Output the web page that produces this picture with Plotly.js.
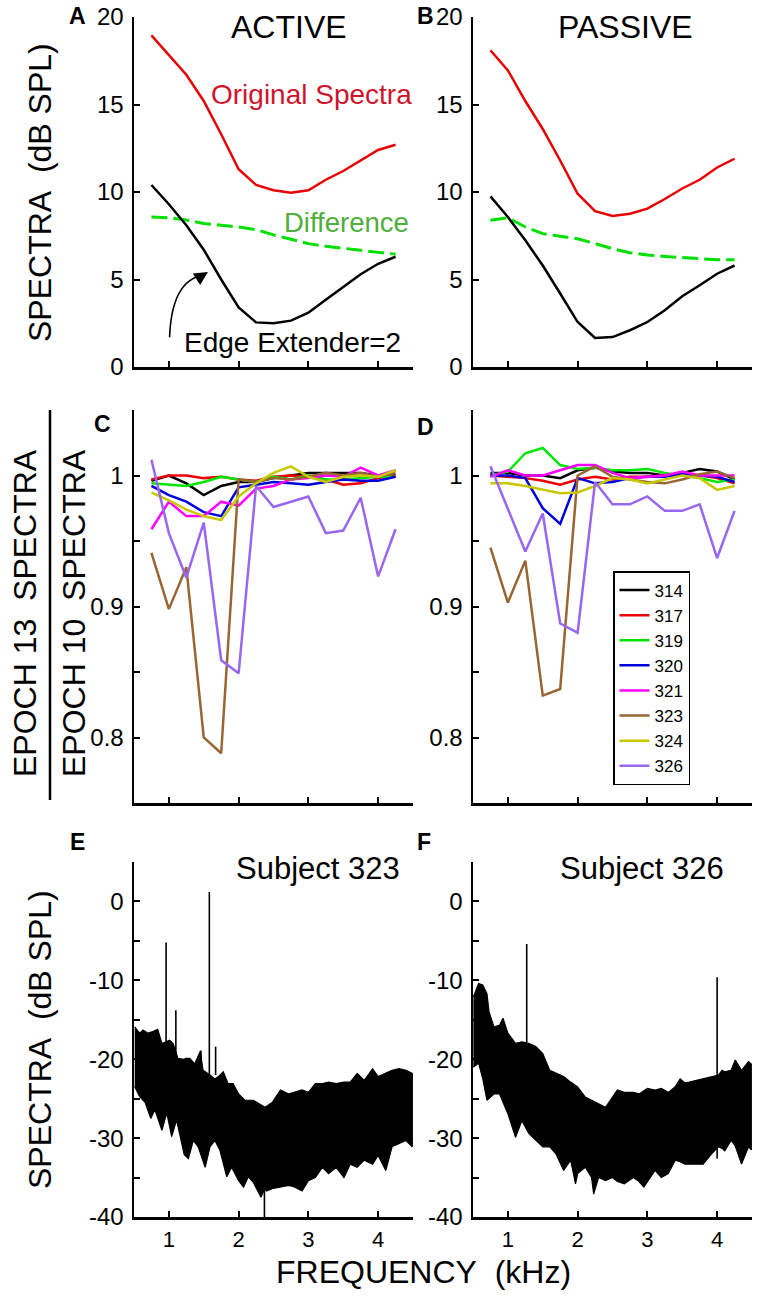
<!DOCTYPE html>
<html>
<head>
<meta charset="utf-8">
<script src="https://cdn.plot.ly/plotly-3.0.1.min.js"></script>
<style>html,body{margin:0;padding:0;background:#fff;}#chart{width:763px;height:1300px;}</style>
</head>
<body>
<div id="chart"></div>
<script>
// ---------- DATA ----------
// Panels A/B: smoothed spectra, frequency grid (kHz)
const freqAB = [0.75,1.0,1.25,1.5,1.75,2.0,2.25,2.5,2.75,3.0,3.25,3.5,3.75,4.0,4.25];
const activeOriginal   = [18.95,17.8,16.7,15.2,13.3,11.3,10.4,10.1,9.96,10.1,10.7,11.2,11.8,12.4,12.7];
const activeExtender   = [10.4,9.3,8.1,6.7,5.0,3.4,2.55,2.5,2.65,3.1,3.85,4.6,5.3,5.9,6.3];
const activeDifference = [8.57,8.53,8.4,8.2,8.1,8.0,7.85,7.55,7.3,7.05,6.9,6.8,6.67,6.55,6.45];
const passiveOriginal   = [18.1,16.95,15.2,13.6,11.8,9.9,8.9,8.63,8.76,9.05,9.6,10.2,10.7,11.4,11.9];
const passiveExtender   = [9.75,8.57,7.24,5.8,4.2,2.57,1.66,1.71,2.1,2.57,3.24,4.04,4.67,5.33,5.8];
const passiveDifference = [8.38,8.53,8.0,7.62,7.47,7.33,7.05,6.76,6.53,6.4,6.32,6.25,6.17,6.13,6.13];

// Panels C/D: epoch 13 / epoch 10 spectra ratio per subject
const subjects = ['314','317','319','320','321','323','324','326'];
const subjectColors = ['#000000','#ee0000','#00e600','#0000dd','#ff00ff','#996633','#c8c800','#9966f0'];
const activeRatio = [
  [0.996,1.0,0.994,0.985,0.992,0.995,0.995,0.998,1.0,1.002,1.002,1.002,1.002,1.0,1.0],
  [0.997,1.0,1.0,0.998,0.999,0.997,0.996,0.999,1.0,0.999,0.997,0.993,0.994,0.998,1.0],
  [0.994,0.993,0.992,0.995,0.999,0.997,0.995,0.999,0.997,1.0,0.997,0.997,0.998,0.999,0.999],
  [0.992,0.985,0.980,0.972,0.969,0.991,0.993,0.995,0.994,0.993,0.995,0.997,0.996,0.996,0.999],
  [0.959,0.980,0.969,0.969,0.980,0.977,0.990,0.992,0.997,0.998,1.0,0.999,1.006,1.0,1.004],
  [0.941,0.898,0.930,0.800,0.788,0.997,0.995,0.998,0.997,0.999,1.002,1.0,1.002,0.999,1.002],
  [0.987,0.981,0.974,0.969,0.966,0.984,0.994,1.002,1.007,0.999,0.995,0.999,1.0,0.999,1.004],
  [1.012,0.956,0.922,0.964,0.859,0.849,0.992,0.976,0.980,0.984,0.956,0.958,0.983,0.923,0.959]
];
const passiveRatio = [
  [1.002,1.002,1.0,1.0,0.998,1.004,1.006,1.003,1.002,1.002,1.0,1.002,1.005,1.003,0.997],
  [1.0,0.999,0.998,0.996,0.993,0.997,0.999,0.997,0.999,0.999,1.0,1.002,1.0,0.998,0.994],
  [1.0,1.003,1.017,1.021,1.008,1.005,1.006,1.004,1.004,1.005,1.002,1.0,0.998,0.995,0.997],
  [1.0,1.0,0.998,0.975,0.963,0.998,0.994,0.995,0.998,0.999,0.999,1.001,1.0,0.999,0.995],
  [0.999,1.004,1.0,1.0,1.004,1.008,1.008,1.002,0.998,0.999,1.0,1.003,1.0,1.0,1.0],
  [0.945,0.903,0.935,0.832,0.837,1.0,1.007,0.999,0.997,0.995,0.994,0.997,1.001,1.003,0.998],
  [0.994,0.994,0.992,0.989,0.9865,0.987,0.992,0.998,0.997,0.994,0.997,1.0,0.998,0.989,0.992],
  [1.007,0.975,0.942,0.971,0.887,0.880,0.995,0.978,0.978,0.984,0.973,0.973,0.978,0.937,0.973]
];

// Panel E: Subject 323 raw spectrum, read as upper/lower envelope of the dense trace
const freqUpperE = [0.51,0.58,0.63,0.70,0.77,0.84,0.90,1.01,1.06,1.13,1.21,1.25,1.30,1.37,1.45,1.49,1.59,1.66,1.71,1.78,1.85,1.92,2.0,2.09,2.21,2.29,2.38,2.48,2.6,2.72,2.8,2.91,3.0,3.1,3.2,3.29,3.4,3.51,3.6,3.7,3.8,3.92,4.0,4.11,4.2,4.3,4.4,4.49];
const upperE     = [-15.9,-16.7,-16.3,-16.7,-16.5,-16.2,-18.0,-17.6,-18.0,-19.9,-20,-19.9,-19.9,-20.6,-19,-21.4,-22.0,-22.5,-22.2,-21.6,-23.1,-23.1,-24.4,-25.2,-25.2,-25.6,-26.1,-25.5,-23.9,-24.4,-24.2,-23.9,-24.2,-23.1,-23.1,-22.9,-23.1,-22.9,-22.9,-21.8,-22.7,-21.2,-22.2,-21.8,-21.4,-21.2,-21.4,-21.8];
const freqLowerE = [0.51,0.58,0.66,0.74,0.80,0.90,0.97,1.04,1.11,1.22,1.28,1.35,1.42,1.52,1.59,1.66,1.73,1.83,1.90,2.0,2.07,2.14,2.21,2.32,2.37,2.4,2.48,2.6,2.72,2.8,2.91,3.0,3.1,3.2,3.29,3.4,3.51,3.6,3.7,3.8,3.92,4.0,4.11,4.2,4.3,4.4,4.49];
const lowerE     = [-23.5,-24.7,-25.5,-27.5,-26.4,-29,-26.8,-29.8,-27.7,-32.1,-32.6,-30.3,-31.1,-33.7,-31.1,-30.3,-31.5,-34.9,-33.7,-35.4,-36.2,-34.9,-35.6,-37.5,-36.5,-36.7,-36.4,-36.2,-36,-36.2,-36.7,-35.4,-35,-33.7,-34.5,-33.7,-35,-33.3,-33.7,-32.8,-33.3,-32.2,-34.1,-31.1,-30.7,-30.3,-31.1];
const spikeFreqE = [0.96,1.1,1.46,1.58,1.67,2.37];
const spikeBaseE = [-20,-20,-22,-22,-22,-36];
const spikeTopE  = [-5.2,-13.8,-18.9,1.2,-18.4,-40];

// Panel F: Subject 326 raw spectrum envelope
const freqF  = [0.505,0.58,0.64,0.7,0.73,0.8,0.88,0.93,1.0,1.11,1.2,1.3,1.4,1.5,1.6,1.69,1.8,1.9,1.97,2.0,2.11,2.2,2.23,2.3,2.4,2.5,2.57,2.67,2.8,2.88,2.95,3.0,3.11,3.2,3.3,3.4,3.47,3.54,3.6,3.69,3.8,3.92,4.02,4.07,4.11,4.2,4.26,4.35,4.45,4.49];
const upperF = [-12.1,-10.4,-10.6,-11.7,-14,-15.9,-15.7,-14.8,-16.7,-18,-17.8,-18,-18.4,-19.3,-21.4,-21.8,-22.2,-22.9,-23.3,-23.5,-24.8,-25.2,-25.3,-25.6,-26.1,-24.8,-23.9,-24.2,-24.2,-24.4,-24.0,-23.7,-23.9,-23.7,-24.2,-23.5,-22.5,-23.0,-22.9,-22.7,-22.5,-22.2,-22.0,-21.4,-21.6,-21.4,-20.1,-21.4,-20.3,-20.6];
const lowerF = [-21,-20.5,-22.5,-25.2,-25,-24.4,-24.4,-25.5,-26.9,-29.9,-27.8,-29.4,-30.3,-31.1,-31.1,-32,-34.1,-32.8,-35.8,-34.5,-33.7,-35,-37.1,-35,-35.4,-35,-35.5,-35.8,-35,-35.5,-36.2,-35.5,-34.1,-35,-34.5,-32.8,-33.0,-33.3,-33.3,-33.3,-33.3,-32,-31.1,-31.3,-31.6,-30.3,-31,-33.3,-31.1,-31.5];
const spikeFreqF = [1.27,4.0,4.0];
const spikeBaseF = [-18,-22,-31];
const spikeTopF  = [-5.4,-9.6,-32.6];

const freqTicks = [1,2,3,4];

// ---------- HELPERS ----------
const W = 763, H = 1300;
const px = v => v / W;
const py = v => 1 - v / H;
const FONT = 'Liberation Sans, Arial, Helvetica, sans-serif';

function band(fu, up, fl, lo, xa, ya) {
  return {
    x: fu.concat(fl.slice().reverse()),
    y: up.concat(lo.slice().reverse()),
    xaxis: xa, yaxis: ya, mode: 'lines', fill: 'toself',
    fillcolor: '#000', line: {color: '#000', width: 1.2},
    showlegend: false, hoverinfo: 'skip'
  };
}
function spikes(fx, base, top, xa, ya) {
  const x = [], y = [];
  fx.forEach((f, i) => { x.push(f, f, null); y.push(base[i], top[i], null); });
  return {x, y, xaxis: xa, yaxis: ya, mode: 'lines', line: {color: '#000', width: 1.6},
          showlegend: false, hoverinfo: 'skip', connectgaps: false};
}

// ---------- TRACES ----------
const traces = [];
// A
traces.push({x: freqAB, y: activeOriginal, xaxis: 'x', yaxis: 'y', mode: 'lines', line: {color: '#e80000', width: 2.5}, showlegend: false});
traces.push({x: freqAB, y: activeDifference, xaxis: 'x', yaxis: 'y', mode: 'lines', line: {color: '#00e000', width: 3, dash: '16px,6px'}, showlegend: false});
traces.push({x: freqAB, y: activeExtender, xaxis: 'x', yaxis: 'y', mode: 'lines', line: {color: '#000', width: 2.5}, showlegend: false});
// B
traces.push({x: freqAB, y: passiveOriginal, xaxis: 'x2', yaxis: 'y2', mode: 'lines', line: {color: '#e80000', width: 2.5}, showlegend: false});
traces.push({x: freqAB, y: passiveDifference, xaxis: 'x2', yaxis: 'y2', mode: 'lines', line: {color: '#00e000', width: 3, dash: '16px,6px'}, showlegend: false});
traces.push({x: freqAB, y: passiveExtender, xaxis: 'x2', yaxis: 'y2', mode: 'lines', line: {color: '#000', width: 2.5}, showlegend: false});
// C & D
subjects.forEach((s, i) => {
  traces.push({x: freqAB, y: activeRatio[i], xaxis: 'x3', yaxis: 'y3', mode: 'lines', name: s,
    line: {color: subjectColors[i], width: 2.5}, showlegend: true, legendgroup: s});
});
subjects.forEach((s, i) => {
  traces.push({x: freqAB, y: passiveRatio[i], xaxis: 'x4', yaxis: 'y4', mode: 'lines', name: s,
    line: {color: subjectColors[i], width: 2.5}, showlegend: false, legendgroup: s});
});
// E & F
traces.push(band(freqUpperE, upperE, freqLowerE, lowerE, 'x5', 'y5'));
traces.push(spikes(spikeFreqE, spikeBaseE, spikeTopE, 'x5', 'y5'));
traces.push(band(freqF, upperF, freqF, lowerF, 'x6', 'y6'));
traces.push(spikes(spikeFreqF, spikeBaseF, spikeTopF, 'x6', 'y6'));

// ---------- AXES ----------
function ax(extra) {
  return Object.assign({
    showline: true, linecolor: '#000', linewidth: 2.5, mirror: false,
    ticks: 'inside', ticklen: 6, tickwidth: 2, tickcolor: '#000',
    showgrid: false, zeroline: false, fixedrange: true,
    tickfont: {family: FONT, size: 24, color: '#000'}, ticklabelstandoff: 3
  }, extra);
}
const xLeft = [px(134), px(413)], xRight = [px(473), px(752)];
const yTop = [py(367), py(17)], yMid = [py(803), py(410)], yBot = [py(1217), py(862)];
const xCommon = {range: [0.5, 4.5], tickvals: freqTicks, showticklabels: false};
const xBottom = {range: [0.5, 4.5], tickvals: freqTicks, showticklabels: true, ticklabelstandoff: 1,
                 tickfont: {family: FONT, size: 22, color: '#000'}};
const yA = {range: [0, 20], tickvals: [0,5,10,15,20]};
const yC = {range: [0.75, 1.05], tickvals: [1.05,1,0.95,0.9,0.85,0.8,0.75], ticktext: ['','1','','0.9','','0.8','']};
const yE = {range: [-40, 5], tickvals: [5,0,-5,-10,-15,-20,-25,-30,-35,-40], ticktext: ['','0','','-10','','-20','','-30','','-40']};

const layout = {
  width: W, height: H, margin: {l: 0, r: 0, t: 0, b: 0},
  paper_bgcolor: '#fff', plot_bgcolor: 'rgba(0,0,0,0)',
  font: {family: FONT, color: '#000'},
  showlegend: true,
  legend: {x: px(613), y: py(571), xanchor: 'left', yanchor: 'top',
           bgcolor: '#fff', bordercolor: '#000', borderwidth: 1.5,
           font: {family: FONT, size: 17, color: '#000'}, tracegroupgap: 0, itemwidth: 30},
  xaxis:  ax(Object.assign({domain: xLeft,  anchor: 'y'},  xCommon)),
  yaxis:  ax(Object.assign({domain: yTop,   anchor: 'x'},  yA)),
  xaxis2: ax(Object.assign({domain: xRight, anchor: 'y2'}, xCommon)),
  yaxis2: ax(Object.assign({domain: yTop,   anchor: 'x2'}, yA)),
  xaxis3: ax(Object.assign({domain: xLeft,  anchor: 'y3'}, xCommon)),
  yaxis3: ax(Object.assign({domain: yMid,   anchor: 'x3'}, yC)),
  xaxis4: ax(Object.assign({domain: xRight, anchor: 'y4'}, xCommon)),
  yaxis4: ax(Object.assign({domain: yMid,   anchor: 'x4'}, yC)),
  xaxis5: ax(Object.assign({domain: xLeft,  anchor: 'y5'}, xBottom)),
  yaxis5: ax(Object.assign({domain: yBot,   anchor: 'x5'}, yE)),
  xaxis6: ax(Object.assign({domain: xRight, anchor: 'y6'}, xBottom)),
  yaxis6: ax(Object.assign({domain: yBot,   anchor: 'x6'}, yE)),
  shapes: [
    // fraction bar of the middle-row y title
    {type: 'line', xref: 'paper', yref: 'paper', x0: px(50), x1: px(50), y0: py(410), y1: py(800), line: {color: '#000', width: 2.5}},
    // curved arrow shaft in panel A
    {type: 'path', xref: 'x', yref: 'y', path: 'M 1.01,1.7 Q 1.04,4.97 1.50,5.26', line: {color: '#000', width: 1.6}}
  ],
  annotations: []
};

function txt(text, x, y, size, opts) {
  layout.annotations.push(Object.assign({
    text: text, xref: 'paper', yref: 'paper', x: px(x), y: py(y),
    xanchor: 'center', yanchor: 'middle', showarrow: false,
    font: {family: FONT, size: size, color: '#000'}
  }, opts || {}));
}
// panel letters
txt('<b>A</b>', 77, 16, 23); txt('<b>B</b>', 425, 16, 23);
txt('<b>C</b>', 102, 424, 23); txt('<b>D</b>', 425, 427, 23);
txt('<b>E</b>', 77, 842, 23); txt('<b>F</b>', 424, 842, 23);
// titles
txt('ACTIVE', 289, 27, 32); txt('PASSIVE', 625, 27, 32);
txt('Subject 323', 318, 868, 31); txt('Subject 326', 642, 868, 31);
// labels in panel A
txt('Original Spectra', 311, 95, 28, {font: {family: FONT, size: 28, color: '#d0142c'}});
txt('Difference', 346, 222, 27.5, {font: {family: FONT, size: 27.5, color: '#4fae3c'}});
txt('Edge Extender=2', 292, 342, 28);
// arrow head
layout.annotations.push({x: 1.56, y: 5.43, xref: 'x', yref: 'y', ax: -11, ay: 7, text: '',
  showarrow: true, arrowhead: 2, arrowsize: 1.7, arrowwidth: 1.6, arrowcolor: '#000'});
// axis titles
txt('SPECTRA\u00a0\u00a0(dB SPL)', 40, 193, 32, {textangle: -90});
txt('SPECTRA\u00a0\u00a0(dB SPL)', 40, 1040, 32, {textangle: -90});
txt('EPOCH 13\u00a0\u00a0SPECTRA', 25, 613, 32, {textangle: -90});
txt('EPOCH 10\u00a0\u00a0SPECTRA', 74, 613, 32, {textangle: -90});
txt('FREQUENCY\u00a0\u00a0(kHz)', 423, 1272, 32);

Plotly.newPlot('chart', traces, layout, {staticPlot: true, displayModeBar: false});
</script>
</body>
</html>
